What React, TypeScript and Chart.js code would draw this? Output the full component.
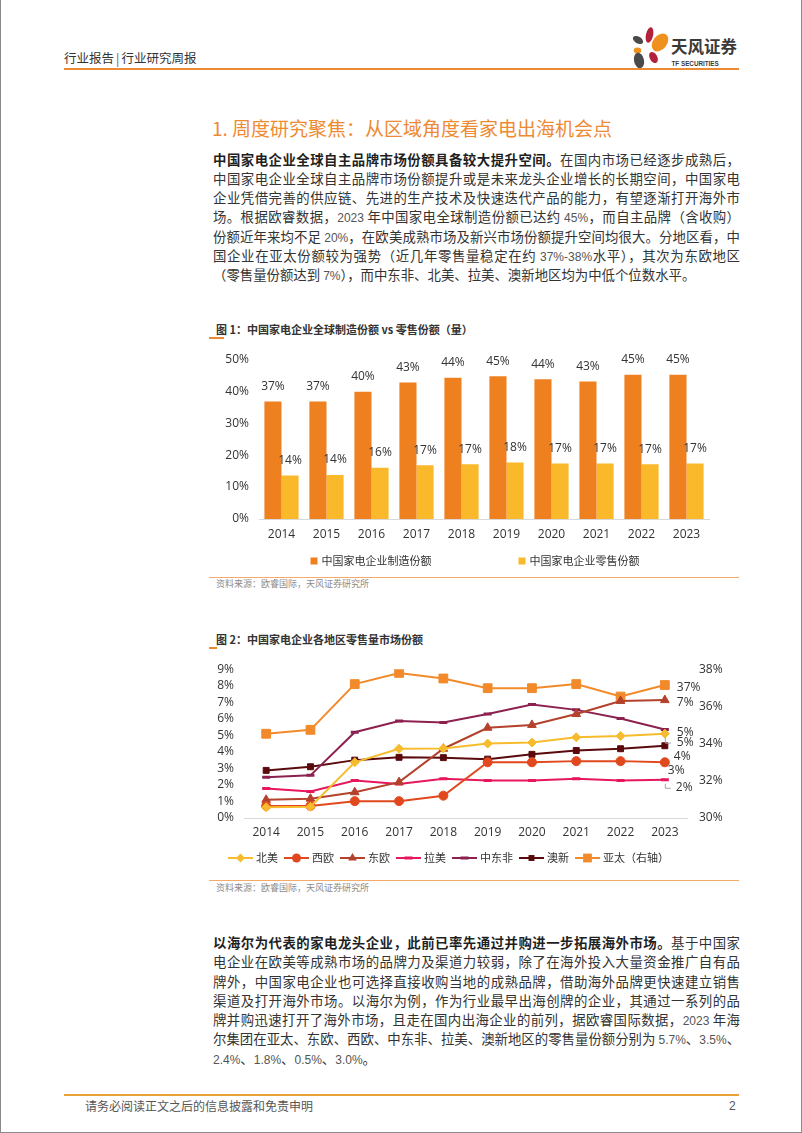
import React, { useEffect, useRef } from 'react';
import { Chart, registerables } from 'chart.js';

Chart.register(...registerables);

const CHART_FONT = '"Open Sans", "Noto Sans CJK SC", sans-serif';
const PAGE_FONT = '"Noto Sans CJK SC", "Noto Sans", sans-serif';
const NUM_FONT = '"Liberation Sans Narrow", "Liberation Sans", Arial, sans-serif';
Chart.defaults.font.family = CHART_FONT;
Chart.defaults.color = '#404040';

// ---------- Figure 1 data ----------
const years = ['2014', '2015', '2016', '2017', '2018', '2019', '2020', '2021', '2022', '2023'];
const mfgLabel = '中国家电企业制造份额';
const retailLabel = '中国家电企业零售份额';
const mfgShare = [36.8, 36.8, 39.8, 42.7, 44.2, 44.7, 43.7, 43.0, 45.1, 45.1];
const retailShare = [13.6, 13.8, 16.0, 16.8, 17.1, 17.7, 17.4, 17.4, 17.1, 17.4];
const fig1YMax = 50;
const fig1YStep = 10;

// ---------- Figure 2 data ----------
const regionNames = ['北美', '西欧', '东欧', '拉美', '中东非', '澳新', '亚太（右轴）'];
const northAmerica = [0.65, 0.68, 3.37, 4.19, 4.21, 4.5, 4.56, 4.88, 4.96, 5.1];
const westernEurope = [0.73, 0.73, 1.02, 1.02, 1.35, 3.37, 3.37, 3.44, 3.44, 3.37];
const easternEurope = [1.1, 1.17, 1.56, 2.17, 4.19, 5.46, 5.63, 6.29, 7.08, 7.13];
const latinAmerica = [1.79, 1.6, 2.27, 2.05, 2.37, 2.27, 2.27, 2.37, 2.27, 2.31];
const middleEastAfrica = [2.46, 2.58, 5.19, 5.87, 5.77, 6.29, 6.87, 6.54, 6.02, 5.35];
const australasia = [2.88, 3.1, 3.5, 3.67, 3.65, 3.56, 3.85, 4.08, 4.19, 4.37];
const asiaPacific = [34.53, 34.74, 37.2, 37.8, 37.5, 36.98, 36.98, 37.2, 36.53, 37.15];
const leftAxis = { min: 0, max: 9, step: 1 };
const rightAxis = { min: 30, max: 38, step: 2 };

// end-label placement (style, relative to the last point)
const endLabelOffsets = [
  { dx: 12, dy: 9, leader: true },
  { dx: 3, dy: 8, leader: false },
  { dx: 12, dy: 2, leader: false },
  { dx: 11, dy: 8, leader: true },
  { dx: 12, dy: 3, leader: false },
  { dx: 9, dy: 11, leader: false },
  { dx: 12, dy: 3, leader: false },
];

const seriesStyles = [
  { color: '#F7BC2D', pointStyle: 'rectRot', radius: 4.5, pbw: 1 },
  { color: '#E2481E', pointStyle: 'circle', radius: 4.5, pbw: 1 },
  { color: '#B3412C', pointStyle: 'triangle', radius: 5, pbw: 1 },
  { color: '#E6175B', pointStyle: 'line', radius: 4, pbw: 3 },
  { color: '#8C2150', pointStyle: 'line', radius: 4, pbw: 3 },
  { color: '#5A0A0C', pointStyle: 'rect', radius: 4.2, pbw: 1 },
  { color: '#F28A2B', pointStyle: 'rect', radius: 6.2, pbw: 1 },
];

function drawMarker(ctx: CanvasRenderingContext2D, style: string, x: number, y: number, r: number, color: string, bw: number) {
  ctx.save();
  ctx.fillStyle = color;
  ctx.strokeStyle = color;
  ctx.lineWidth = bw;
  ctx.beginPath();
  if (style === 'circle') {
    ctx.arc(x, y, r, 0, Math.PI * 2);
    ctx.fill();
  } else if (style === 'rect') {
    const s = r * Math.SQRT1_2;
    ctx.rect(x - s, y - s, 2 * s, 2 * s);
    ctx.fill();
  } else if (style === 'rectRot') {
    ctx.moveTo(x, y - r);
    ctx.lineTo(x + r, y);
    ctx.lineTo(x, y + r);
    ctx.lineTo(x - r, y);
    ctx.closePath();
    ctx.fill();
  } else if (style === 'triangle') {
    ctx.moveTo(x, y - r);
    ctx.lineTo(x + r * 0.866, y + r / 2);
    ctx.lineTo(x - r * 0.866, y + r / 2);
    ctx.closePath();
    ctx.fill();
  } else if (style === 'line') {
    ctx.moveTo(x - r, y);
    ctx.lineTo(x + r, y);
    ctx.stroke();
  }
  ctx.restore();
}

const pageLegend = {
  id: 'pageLegend',
  afterDraw(chart: any, _args: any, opts: any) {
    const ctx: CanvasRenderingContext2D = chart.ctx;
    const isBar = chart.config.type === 'bar';
    const dss = chart.data.datasets;
    ctx.save();
    ctx.font = `${opts.fontSize}px ${CHART_FONT}`;
    const widths = dss.map((d: any) => opts.symbolWidth + opts.symbolGap + ctx.measureText(d.label).width);
    const total = widths.reduce((a: number, b: number) => a + b, 0) + opts.itemGap * (dss.length - 1);
    let x = opts.centerX - total / 2;
    const y = chart.height - opts.bottom;
    dss.forEach((d: any, i: number) => {
      if (isBar) {
        ctx.fillStyle = d.backgroundColor;
        ctx.fillRect(x, y - opts.symbolWidth / 2, opts.symbolWidth, opts.symbolWidth);
      } else {
        ctx.strokeStyle = d.borderColor;
        ctx.lineWidth = 2;
        ctx.beginPath();
        ctx.moveTo(x, y);
        ctx.lineTo(x + opts.symbolWidth, y);
        ctx.stroke();
        drawMarker(ctx, d.pointStyle, x + opts.symbolWidth / 2, y, d.pointRadius, d.borderColor, d.pointBorderWidth);
      }
      ctx.fillStyle = '#333';
      ctx.textAlign = 'left';
      ctx.textBaseline = 'middle';
      ctx.fillText(d.label, x + opts.symbolWidth + opts.symbolGap, y + 1);
      x += widths[i] + opts.itemGap;
    });
    ctx.restore();
  },
};

const barValueLabels = {
  id: 'barValueLabels',
  afterDatasetsDraw(chart: any) {
    const ctx: CanvasRenderingContext2D = chart.ctx;
    ctx.save();
    ctx.font = `12px ${CHART_FONT}`;
    ctx.fillStyle = '#333';
    ctx.textAlign = 'center';
    ctx.textBaseline = 'middle';
    chart.data.datasets.forEach((ds: any, i: number) => {
      chart.getDatasetMeta(i).data.forEach((bar: any, j: number) => {
        ctx.fillText(Math.round(ds.data[j]) + '%', bar.x, bar.y - 15);
      });
    });
    ctx.restore();
  },
};

const endLabels = {
  id: 'endLabels',
  afterDatasetsDraw(chart: any) {
    const ctx: CanvasRenderingContext2D = chart.ctx;
    ctx.save();
    ctx.font = `12px ${CHART_FONT}`;
    ctx.fillStyle = '#333';
    ctx.textAlign = 'left';
    ctx.textBaseline = 'middle';
    chart.data.datasets.forEach((ds: any, i: number) => {
      const n = ds.data.length - 1;
      const pt = chart.getDatasetMeta(i).data[n];
      const off = endLabelOffsets[i];
      const lx = pt.x + off.dx;
      const ly = pt.y + off.dy;
      if (off.leader) {
        ctx.strokeStyle = '#A6A6A6';
        ctx.lineWidth = 1;
        ctx.beginPath();
        ctx.moveTo(pt.x + 0.5, pt.y + 4);
        ctx.lineTo(pt.x + 0.5, ly + 0.5);
        ctx.lineTo(pt.x + 6, ly + 0.5);
        ctx.stroke();
      }
      ctx.fillText(Math.round(ds.data[n]) + '%', lx, ly);
    });
    ctx.restore();
  },
};

function makeFig1(): any {
  return {
    type: 'bar',
    data: {
      labels: years,
      datasets: [
        { label: mfgLabel, data: mfgShare, backgroundColor: '#EF8020', categoryPercentage: 0.76, barPercentage: 1 },
        { label: retailLabel, data: retailShare, backgroundColor: '#F9B92B', categoryPercentage: 0.76, barPercentage: 1 },
      ],
    },
    options: {
      animation: false,
      responsive: false,
      layout: { padding: { top: 16, right: 32, left: 0, bottom: 27 } },
      plugins: {
        legend: { display: false },
        tooltip: { enabled: false },
        pageLegend: { centerX: 274, bottom: 13, symbolWidth: 7, symbolGap: 4, itemGap: 87, fontSize: 11 },
      },
      scales: {
        x: {
          grid: { display: false, drawTicks: false },
          border: { color: '#D9D9D9', width: 1 },
          ticks: { padding: 8, font: { size: 12 }, color: '#333' },
          afterFit: (s: any) => { s.height = 28; },
        },
        y: {
          min: 0,
          max: fig1YMax,
          grid: { display: false, drawTicks: false },
          border: { display: false },
          ticks: { stepSize: fig1YStep, autoSkip: false, padding: 10, font: { size: 12 }, color: '#333', callback: (v: any) => v + '%' },
          afterFit: (s: any) => { s.width = 58; },
        },
      },
    },
    plugins: [barValueLabels, pageLegend],
  };
}

function makeFig2(): any {
  const series = [northAmerica, westernEurope, easternEurope, latinAmerica, middleEastAfrica, australasia, asiaPacific];
  return {
    type: 'line',
    data: {
      labels: years,
      datasets: series.map((data, i) => {
        const st = seriesStyles[i];
        return {
          label: regionNames[i],
          data,
          yAxisID: i === 6 ? 'y1' : 'y',
          borderColor: st.color,
          backgroundColor: st.color,
          pointBackgroundColor: st.color,
          pointBorderColor: st.color,
          pointStyle: st.pointStyle,
          pointRadius: st.radius,
          pointBorderWidth: st.pbw,
          borderWidth: 2,
          tension: 0,
          fill: false,
        };
      }),
    },
    options: {
      animation: false,
      responsive: false,
      layout: { padding: { top: 12, right: 0, left: 0, bottom: 26 } },
      plugins: {
        legend: { display: false },
        tooltip: { enabled: false },
        pageLegend: { centerX: 247.5, bottom: 12, symbolWidth: 25, symbolGap: 3, itemGap: 6, fontSize: 11 },
      },
      scales: {
        x: {
          offset: true,
          grid: { display: false, drawTicks: false },
          border: { color: '#D9D9D9', width: 1 },
          ticks: { padding: 7, font: { size: 12 }, color: '#333' },
          afterFit: (s: any) => { s.height = 26; },
        },
        y: {
          position: 'left',
          min: leftAxis.min,
          max: leftAxis.max,
          grid: { display: false, drawTicks: false },
          border: { display: false },
          ticks: { stepSize: leftAxis.step, autoSkip: false, padding: 10, font: { size: 12 }, color: '#333', callback: (v: any) => v + '%' },
          afterFit: (s: any) => { s.width = 43; },
        },
        y1: {
          position: 'right',
          min: rightAxis.min,
          max: rightAxis.max,
          grid: { display: false, drawTicks: false },
          border: { display: false },
          ticks: { stepSize: rightAxis.step, autoSkip: false, padding: 12, font: { size: 12 }, color: '#333', callback: (v: any) => v + '%' },
          afterFit: (s: any) => { s.width = 54; },
        },
      },
    },
    plugins: [endLabels, pageLegend],
  };
}

function ChartBox({ make, left, top, width, height }: { make: () => any; left: number; top: number; width: number; height: number }) {
  const ref = useRef<HTMLCanvasElement>(null);
  useEffect(() => {
    const chart = new Chart(ref.current as HTMLCanvasElement, make());
    return () => chart.destroy();
  }, []);
  return (
    <canvas
      ref={ref}
      width={width}
      height={height}
      style={{ position: 'absolute', left, top, width, height }}
    />
  );
}

const B = ({ children }: any) => <b style={{ fontWeight: 700, color: '#1f1f1f' }}>{children}</b>;
const N = ({ children }: any) => <span style={{ fontFamily: NUM_FONT, fontSize: 12, color: '#555' }}>{children}</span>;

function Para({ top, lines }: { top: number; lines: any[] }) {
  return (
    <div style={{ position: 'absolute', left: 212, top, width: 527, fontFamily: PAGE_FONT, fontSize: 13.4, color: '#333' }}>
      {lines.map((ln, i) => (
        <div
          key={i}
          style={{
            height: 19.3,
            lineHeight: '19.3px',
            overflow: 'hidden',
            textAlign: 'justify',
            textAlignLast: i === lines.length - 1 ? 'left' : 'justify',
          } as any}
        >
          {ln}
        </div>
      ))}
    </div>
  );
}

function Abs({ left, top, style, children }: any) {
  return <div style={{ position: 'absolute', left, top, whiteSpace: 'nowrap', ...style }}>{children}</div>;
}

export default function App() {
  const p1 = [
    <><B>中国家电企业全球自主品牌市场份额具备较大提升空间。</B>在国内市场已经逐步成熟后，</>,
    <>中国家电企业全球自主品牌市场份额提升或是未来龙头企业增长的长期空间，中国家电</>,
    <>企业凭借完善的供应链、先进的生产技术及快速迭代产品的能力，有望逐渐打开海外市</>,
    <>场。根据欧睿数据，<N>2023</N> 年中国家电全球制造份额已达约 <N>45%</N>，而自主品牌（含收购）</>,
    <>份额近年来均不足 <N>20%</N>，在欧美成熟市场及新兴市场份额提升空间均很大。分地区看，中</>,
    <>国企业在亚太份额较为强势（近几年零售量稳定在约 <N>37%-38%</N>水平），其次为东欧地区</>,
    <>（零售量份额达到 <N>7%</N>），而中东非、北美、拉美、澳新地区均为中低个位数水平。</>,
  ];
  const p2 = [
    <><B>以海尔为代表的家电龙头企业，此前已率先通过并购进一步拓展海外市场。</B>基于中国家</>,
    <>电企业在欧美等成熟市场的品牌力及渠道力较弱，除了在海外投入大量资金推广自有品</>,
    <>牌外，中国家电企业也可选择直接收购当地的成熟品牌，借助海外品牌更快速建立销售</>,
    <>渠道及打开海外市场。以海尔为例，作为行业最早出海创牌的企业，其通过一系列的品</>,
    <>牌并购迅速打开了海外市场，且走在国内出海企业的前列，据欧睿国际数据，<N>2023</N> 年海</>,
    <>尔集团在亚太、东欧、西欧、中东非、拉美、澳新地区的零售量份额分别为 <N>5.7%</N>、<N>3.5%</N>、</>,
    <><N>2.4%</N>、<N>1.8%</N>、<N>0.5%</N>、<N>3.0%</N>。</>,
  ];

  return (
    <div
      style={{
        position: 'absolute',
        left: 0,
        top: 0,
        width: 802,
        height: 1133,
        boxSizing: 'border-box',
        borderLeft: '1px solid #8a8a8a',
        borderRight: '1px solid #8a8a8a',
        borderBottom: '1px solid #8a8a8a',
        background: '#fff',
        fontFamily: PAGE_FONT,
        overflow: 'hidden',
      }}
    >
      {/* header */}
      <Abs left={63} top={50} style={{ fontSize: 12.5, lineHeight: '16px', color: '#333' }}>
        行业报告<span style={{ margin: '0 2px', color: '#555' }}>|</span>行业研究周报
      </Abs>
      <svg width={116} height={48} style={{ position: 'absolute', left: 626, top: 23 }}>
        <ellipse cx={22.5} cy={12} rx={3.6} ry={8} fill="#B2223B" transform="rotate(12 22.5 12)" />
        <ellipse cx={11} cy={17} rx={5.6} ry={3.4} fill="#4A4A4A" transform="rotate(30 11 17)" />
        <ellipse cx={33} cy={19.5} rx={7} ry={10} fill="#F0901E" transform="rotate(38 33 19.5)" />
        <ellipse cx={10.5} cy={27.5} rx={3.8} ry={3} fill="#F0901E" />
        <ellipse cx={12} cy={37.5} rx={5} ry={7.8} fill="#4A4A4A" transform="rotate(-12 12 37.5)" />
        <ellipse cx={26.5} cy={34.5} rx={3.8} ry={6} fill="#B2223B" transform="rotate(-28 26.5 34.5)" />
        <text x={44} y={30} fontSize={16.5} fontWeight={700} fill="#3a3a3a" fontFamily={PAGE_FONT}>天风证券</text>
        <text x={44.5} y={42.5} fontSize={6.3} fontWeight={700} fill="#3a3a3a" fontFamily='"Liberation Sans", Arial, sans-serif'>TF SECURITIES</text>
      </svg>
      <div style={{ position: 'absolute', left: 63, top: 68, width: 675, height: 2, background: '#EC8A35' }} />

      {/* section title */}
      <Abs left={211} top={113} style={{ fontSize: 19, lineHeight: '30px', color: '#EE8A33' }}>
        1. 周度研究聚焦：从区域角度看家电出海机会点
      </Abs>

      <Para top={149.5} lines={p1} />

      {/* figure 1 */}
      <Abs left={215} top={321} style={{ fontSize: 11, lineHeight: '16px', color: '#333', fontWeight: 700 }}>
        图 1：中国家电企业全球制造份额 vs 零售份额（量）
      </Abs>
      <div style={{ position: 'absolute', left: 208, top: 337, width: 15, height: 2, background: '#F08A30' }} />
      <ChartBox make={makeFig1} left={200} top={342} width={540} height={232} />
      <div style={{ position: 'absolute', left: 208, top: 577, width: 530, height: 1, background: '#F3AA6A' }} />
      <Abs left={215} top={578} style={{ fontSize: 9, lineHeight: '12px', color: '#8c8c8c' }}>
        资料来源：欧睿国际，天风证券研究所
      </Abs>

      {/* figure 2 */}
      <Abs left={215} top={631} style={{ fontSize: 11, lineHeight: '16px', color: '#333', fontWeight: 700 }}>
        图 2：中国家电企业各地区零售量市场份额
      </Abs>
      <div style={{ position: 'absolute', left: 208, top: 647, width: 8, height: 2, background: '#F08A30' }} />
      <ChartBox make={makeFig2} left={200} top={650} width={540} height={220} />
      <div style={{ position: 'absolute', left: 208, top: 880, width: 530, height: 1, background: '#F3AA6A' }} />
      <Abs left={215} top={882} style={{ fontSize: 9, lineHeight: '12px', color: '#8c8c8c' }}>
        资料来源：欧睿国际，天风证券研究所
      </Abs>

      <Para top={933} lines={p2} />

      {/* footer */}
      <div style={{ position: 'absolute', left: 63, top: 1094, width: 675, height: 2, background: '#E9A23A' }} />
      <Abs left={84} top={1098} style={{ fontSize: 12, lineHeight: '16px', color: '#555' }}>
        请务必阅读正文之后的信息披露和免责申明
      </Abs>
      <Abs left={728} top={1098} style={{ fontSize: 12, lineHeight: '16px', color: '#555', fontFamily: NUM_FONT }}>
        2
      </Abs>
    </div>
  );
}
